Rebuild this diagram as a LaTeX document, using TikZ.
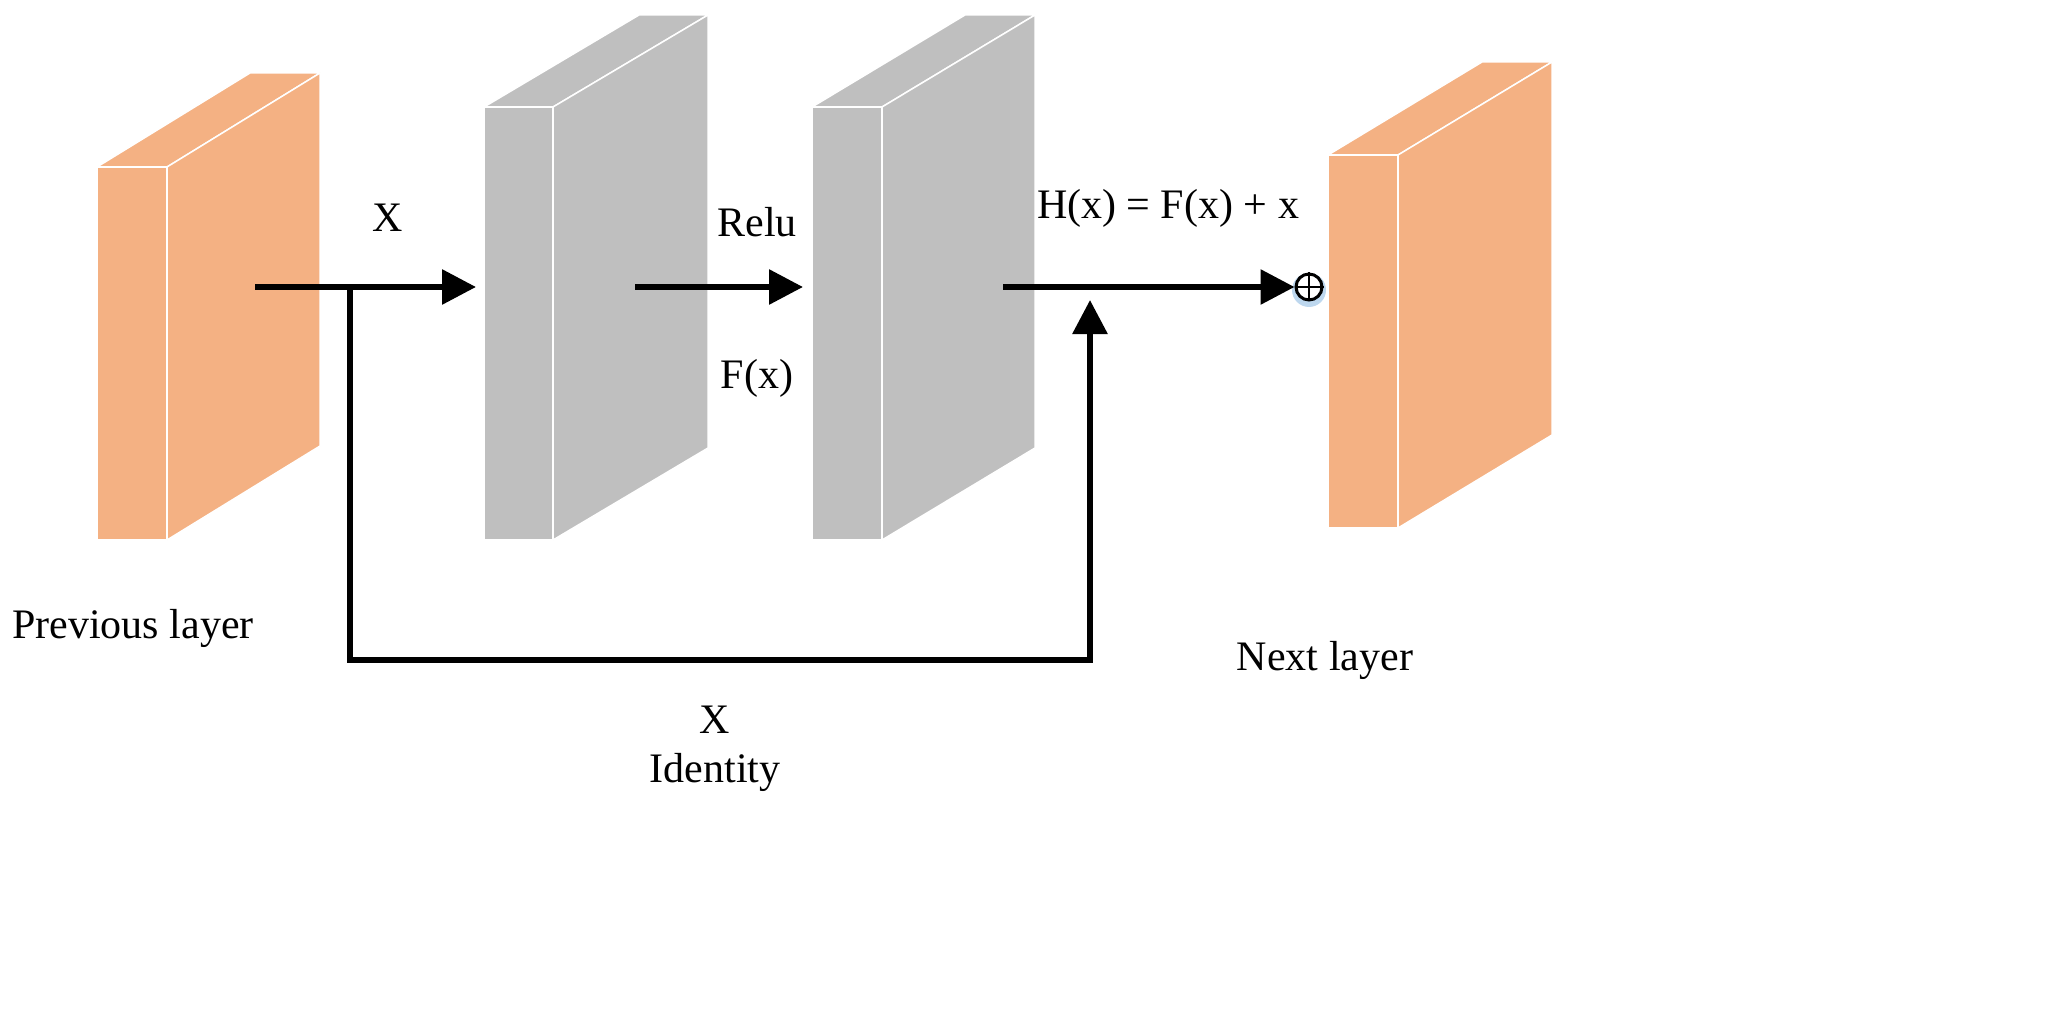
\documentclass[tikz,border=0pt]{standalone}
\usepackage{fontspec}
\setmainfont{Liberation Serif}
\usetikzlibrary{arrows.meta}
\definecolor{org}{HTML}{F4B183}
\definecolor{gry}{HTML}{BFBFBF}
\definecolor{glow}{HTML}{BDD7EE}
\tikzset{
 face/.style={draw=white,line width=1.5pt,line join=round},
 conn/.style={line width=6pt,-{Triangle[length=34pt,width=34pt]}},
 plain/.style={line width=6pt},
 lbl/.style={font=\fontsize{42}{44}\selectfont,inner sep=0pt},
}
\newcommand{\myblock}[7]{% x1 x2 ytop ybot dx dy color
 \fill[#7,face] (#1,#3) -- (#2,#3) -- (#2+#5,#3+#6) -- (#1+#5,#3+#6) -- cycle;
 \fill[#7,face] (#2,#3) -- (#2+#5,#3+#6) -- (#2+#5,#4+#6) -- (#2,#4) -- cycle;
 \fill[#7,face] (#1,#3) rectangle (#2,#4);
}
\begin{document}
\begin{tikzpicture}[x=1pt,y=-1pt]
\useasboundingbox (0,0) rectangle (2048,1024);
\myblock{97}{167}{167}{540}{153}{-94}{org}
\myblock{484}{553}{107}{540}{155}{-92}{gry}
\myblock{812}{882}{107}{540}{153}{-92}{gry}
\myblock{1328}{1398}{155}{528}{154}{-93}{org}
\coordinate (a0) at (255,287);
\coordinate (a1) at (476,287);
\coordinate (s) at (350,287);
\coordinate (s1) at (350,660);
\coordinate (s2) at (1090,660);
\coordinate (v1) at (1090,300);
\coordinate (b0) at (635,287);
\coordinate (b1) at (803,287);
\coordinate (c0) at (1003,287);
\fill[glow] (1309,290) circle (17pt);
\node[circle,draw=black,line width=3pt,minimum size=26pt,inner sep=0pt,fill=white] (op) at (1309,287) {};
\draw[line width=2.5pt] (op.north) -- (op.south) (op.west) -- (op.east);
\draw[conn] (a0) -- (a1);
\draw[plain,line join=miter] (s) -- (s1) -- (s2) -- (1090,640);
\draw[conn] (s2) -- (v1);
\draw[conn] (b0) -- (b1);
\draw[conn] (c0) -- (op.west);
\node[lbl] at (388,218) {X};
\node[lbl] at (757,222) {Relu};
\node[lbl] at (757,378) {F(x)};
\node[lbl] at (1168,208) {H(x) = F(x) + x};
\node[lbl] at (133,628) {Previous layer};
\node[lbl] at (1325,660) {Next layer};
\node[lbl] at (715,720) {X};
\node[lbl] at (715,772) {Identity};
\end{tikzpicture}
\end{document}
